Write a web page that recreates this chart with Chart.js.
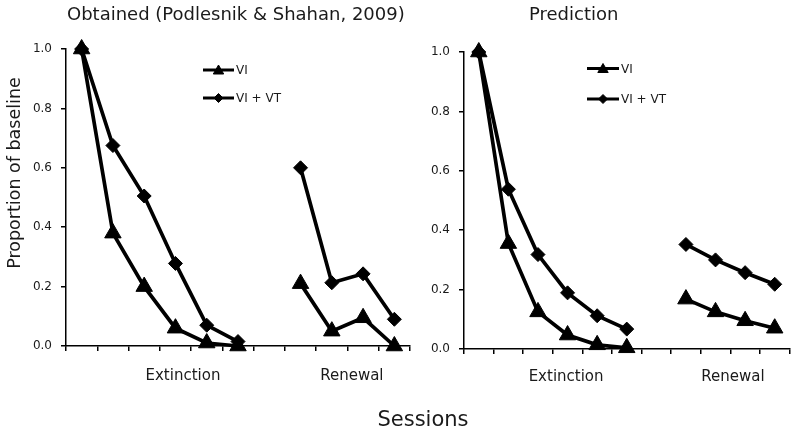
<!DOCTYPE html>
<html>
<head>
<meta charset="utf-8">
<script src="https://cdn.jsdelivr.net/npm/chart.js@4.4.1/dist/chart.umd.min.js"></script>
<style>
  html, body { margin: 0; padding: 0; background: #fff; }
  #wrap { position: relative; width: 800px; height: 431px; }
  #wrap canvas { position: absolute; left: 0; top: 0; }
</style>
</head>
<body>
<div id="wrap">
  <canvas id="obtained" width="800" height="431"></canvas>
  <canvas id="prediction" width="800" height="431"></canvas>
</div>
<script>
// sessions: 6 extinction, an empty slot, 4 renewal
const sessions = ['E1', 'E2', 'E3', 'E4', 'E5', 'E6', '', 'R1', 'R2', 'R3', 'R4'];
const seriesNames = ['VI', 'VI + VT'];

// Obtained (Podlesnik & Shahan, 2009)
const obtainedVI   = [1.00, 0.38, 0.20, 0.06, 0.01, 0.00, null, 0.21, 0.05, 0.095, 0.00];
const obtainedVIVT = [1.00, 0.675, 0.505, 0.278, 0.07, 0.015, null, 0.60, 0.213, 0.243, 0.09];

// Prediction
const predictedVI   = [1.00, 0.355, 0.125, 0.047, 0.014, 0.004, null, 0.168, 0.125, 0.095, 0.07];
const predictedVIVT = [1.00, 0.538, 0.318, 0.189, 0.112, 0.067, null, 0.352, 0.30, 0.257, 0.218];

const yTickStep = 0.2;

const FONT = '"DejaVu Sans", Verdana, sans-serif';
const INK = '#1a1a1a';

function markerPath(ctx, style, x, y, r) {
  ctx.beginPath();
  if (style === 'triangle') {
    ctx.moveTo(x, y - r);
    ctx.lineTo(x + r * 0.866, y + r * 0.5);
    ctx.lineTo(x - r * 0.866, y + r * 0.5);
  } else {
    ctx.moveTo(x - r, y);
    ctx.lineTo(x, y - r);
    ctx.lineTo(x + r, y);
    ctx.lineTo(x, y + r);
  }
  ctx.closePath();
}

// draws titles, group labels under the axis and the small legend
function decor(id, texts, groups, legend) {
  return {
    id: id,
    afterDraw(chart) {
      const ctx = chart.ctx;
      const xs = chart.scales.x;
      ctx.save();
      ctx.fillStyle = INK;
      ctx.textBaseline = 'alphabetic';

      ctx.font = '15px ' + FONT;
      ctx.textAlign = 'center';
      groups.forEach(g => ctx.fillText(g.text, xs.getPixelForValue(g.at), g.y));

      texts.forEach(t => {
        ctx.save();
        ctx.font = t.size + 'px ' + FONT;
        ctx.textAlign = t.align;
        ctx.translate(t.x, t.y);
        if (t.rotate) ctx.rotate(t.rotate);
        ctx.fillText(t.text, 0, 0);
        ctx.restore();
      });

      chart.data.datasets.forEach((ds, i) => {
        const y = legend.ys[i];
        ctx.strokeStyle = '#000';
        ctx.lineWidth = 3;
        ctx.beginPath();
        ctx.moveTo(legend.x0, y);
        ctx.lineTo(legend.x1, y);
        ctx.stroke();
        ctx.fillStyle = '#000';
        ctx.lineWidth = 1;
        markerPath(ctx, ds.pointStyle, (legend.x0 + legend.x1) / 2, y + (ds.pointStyle === 'triangle' ? 1 : 0), legend.r[i]);
        ctx.fill();
        ctx.stroke();
        ctx.fillStyle = INK;
        ctx.font = '12px ' + FONT;
        ctx.textAlign = 'left';
        ctx.textBaseline = 'middle';
        ctx.fillText(ds.label, legend.textX, y + 1);
        ctx.textBaseline = 'alphabetic';
      });
      ctx.restore();
    }
  };
}

function series(label, data, style) {
  return {
    label: label,
    data: data,
    borderColor: '#000',
    backgroundColor: '#000',
    pointBackgroundColor: '#000',
    pointBorderColor: '#000',
    borderWidth: 3.7,
    pointStyle: style,
    pointRadius: style === 'triangle' ? 9.5 : 7,
    pointHoverRadius: style === 'triangle' ? 9.5 : 7,
    pointBorderWidth: 1,
    tension: 0,
    spanGaps: false,
    clip: false
  };
}

function makeChart(canvasId, vi, vivt, box, extras) {
  new Chart(document.getElementById(canvasId), {
    type: 'line',
    data: {
      labels: sessions,
      datasets: [
        series(seriesNames[0], vi, 'triangle'),
        series(seriesNames[1], vivt, 'rectRot')
      ]
    },
    options: {
      responsive: false,
      animation: false,
      events: [],
      layout: { padding: { left: 0, top: box.top, right: 800 - box.right, bottom: 0 } },
      plugins: { legend: { display: false }, tooltip: { enabled: false } },
      scales: {
        x: {
          type: 'category',
          offset: true,
          grid: { offset: true, drawOnChartArea: false, drawTicks: true, tickLength: 5, color: '#000', lineWidth: 1.5 },
          border: { display: true, color: '#000', width: 1.5 },
          ticks: { display: false },
          afterFit(s) { s.height = 431 - box.bottom; }
        },
        y: {
          min: 0,
          max: 1,
          grid: { drawOnChartArea: false, drawTicks: true, tickLength: 5, color: '#000', lineWidth: 1.5 },
          border: { display: true, color: '#000', width: 1.5 },
          ticks: {
            stepSize: yTickStep,
            padding: 9,
            color: INK,
            font: { family: FONT, size: 12 },
            callback: v => v.toFixed(1)
          },
          afterFit(s) { s.width = box.left; }
        }
      }
    },
    plugins: [extras]
  });
}

makeChart('obtained', obtainedVI, obtainedVIVT,
  { left: 66, right: 410, top: 49, bottom: 346 },
  decor('obtainedDecor',
    [
      { text: 'Obtained (Podlesnik & Shahan, 2009)', x: 67, y: 20, size: 18, align: 'left' },
      { text: 'Proportion of baseline', x: 20, y: 173, size: 17.5, align: 'center', rotate: -Math.PI / 2 },
      { text: 'Sessions', x: 423, y: 426, size: 21, align: 'center' }
    ],
    [ { text: 'Extinction', at: 3.24, y: 380 }, { text: 'Renewal', at: 8.64, y: 380 } ],
    { x0: 203, x1: 234, textX: 236, ys: [70, 98], r: [6, 4.5] }
  ));

makeChart('prediction', predictedVI, predictedVIVT,
  { left: 464, right: 794, top: 52, bottom: 349 },
  decor('predictionDecor',
    [
      { text: 'Prediction', x: 529, y: 19.5, size: 18, align: 'left' }
    ],
    [ { text: 'Extinction', at: 2.95, y: 381 }, { text: 'Renewal', at: 8.59, y: 381 } ],
    { x0: 587, x1: 619, textX: 621, ys: [68.5, 99], r: [6, 4.5] }
  ));
</script>
</body>
</html>
